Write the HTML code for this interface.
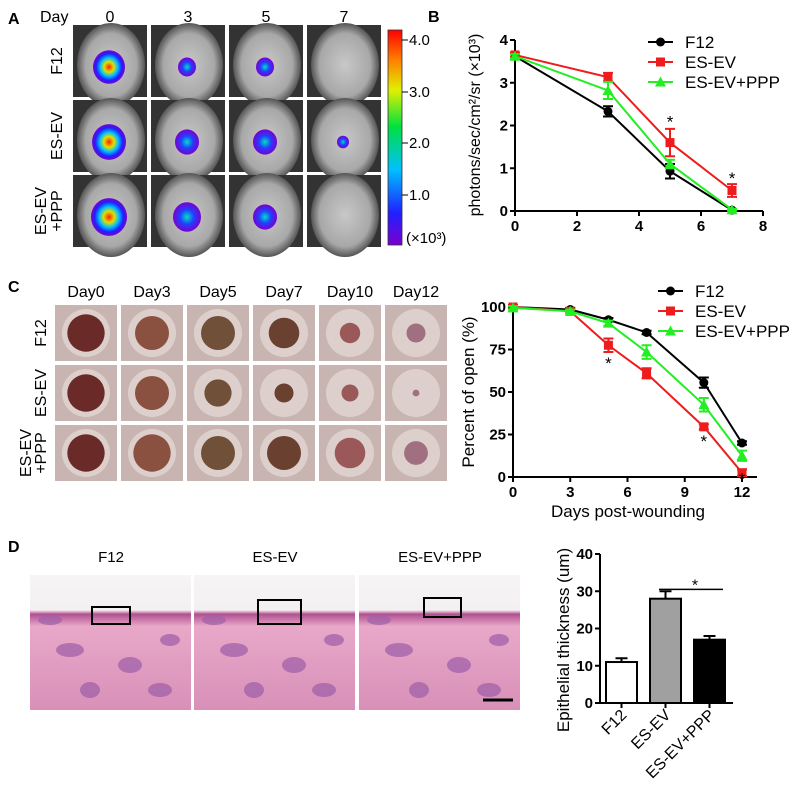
<!DOCTYPE html>
<html><head><meta charset="utf-8"><style>
body{margin:0;background:#fff}
svg{display:block;font-family:"Liberation Sans",sans-serif}
</style></head><body>
<svg id="fig" width="806" height="809" viewBox="0 0 806 809">
<defs>
<linearGradient id="cbar" x1="0" y1="1" x2="0" y2="0">
<stop offset="0" stop-color="#7a00d0"/><stop offset="0.15" stop-color="#2020ff"/><stop offset="0.35" stop-color="#00c0ff"/><stop offset="0.55" stop-color="#00e040"/><stop offset="0.72" stop-color="#e0f000"/><stop offset="0.86" stop-color="#ff8000"/><stop offset="1" stop-color="#ff0000"/>
</linearGradient>
<radialGradient id="blob"><stop offset="0" stop-color="#ff2000"/><stop offset="0.3" stop-color="#e0e000"/><stop offset="0.55" stop-color="#00c0ff"/><stop offset="0.8" stop-color="#2020ff"/><stop offset="1" stop-color="#7a00d0"/></radialGradient>
<radialGradient id="blob2"><stop offset="0" stop-color="#00e0c0"/><stop offset="0.5" stop-color="#2040ff"/><stop offset="1" stop-color="#7a00d0"/></radialGradient>
<radialGradient id="mouse"><stop offset="0" stop-color="#c8c8c8"/><stop offset="0.75" stop-color="#a8a8a8"/><stop offset="1" stop-color="#555"/></radialGradient>
<linearGradient id="histo" x1="0" y1="0" x2="0" y2="1"><stop offset="0" stop-color="#f6f4f6"/><stop offset="0.26" stop-color="#f4f0f2"/><stop offset="0.29" stop-color="#b05090"/><stop offset="0.38" stop-color="#e8a8c8"/><stop offset="1" stop-color="#d890b8"/></linearGradient>
</defs>
<g id="panelA"></g>
<g id="panelB"></g>
<g id="panelC"></g>
<g id="panelC2"></g>
<g id="panelD"></g>
<g id="panelD2"></g>
</svg>
<script>
// ---------- data ----------
const bDays=[0,3,5,7];
const bF12=[3.62,2.33,0.93,0.02];
const bF12Err=[0.05,0.12,0.17,0.02];
const bESEV=[3.65,3.13,1.6,0.48];
const bESEVErr=[0.05,0.1,0.32,0.15];
const bPPP=[3.62,2.82,1.1,0.03];
const bPPPErr=[0.05,0.2,0.1,0.02];
const bXTicks=[0,2,4,6,8];
const bYTicks=[0,1,2,3,4];
const cDays=[0,3,5,7,10,12];
const cF12=[100,98.5,92.5,85,55.5,20];
const cF12Err=[1,1,1,1,3,1];
const cESEV=[100,97.5,77.5,61,29.5,2.5];
const cESEVErr=[1,1,4,3,1.5,2];
const cPPP=[99.5,97.5,90.5,73.5,42.5,12.5];
const cPPPErr=[1,1,1.5,4,4,3];
const cXTicks=[0,3,6,9,12];
const cYTicks=[0,25,50,75,100];
const dCats=["F12","ES-EV","ES-EV+PPP"];
const dVals=[11,28,17];
const dErr=[1,2,1];
const dYTicks=[0,10,20,30,40];
const groups=["F12","ES-EV","ES-EV+PPP"];
const colors=["#000000","#ee1c1c","#22ee22"];

const NS="http://www.w3.org/2000/svg";
function mk(parent,tag,attrs,text){const e=document.createElementNS(NS,tag);for(const k in attrs)e.setAttribute(k,attrs[k]);if(text!==undefined)e.textContent=text;parent.appendChild(e);return e;}
function T(p,x,y,s,size,o){o=o||{};const e=mk(p,'text',Object.assign({x:x,y:y,'font-size':size,fill:'#000'},o),s);return e;}

// ---------- Panel A ----------
const A=document.getElementById('panelA');
let t=T(A,8,24,'A',16,{'font-weight':'bold'});

t=T(A,40,22,'Day',16);
const aCols=[73,151,229,307], aRows=[25,100,175], aDays=["0","3","5","7"];
const blobSize=[[16,9,9,0],[17,12,12,6],[18,14,12,0]];
aDays.forEach((d,i)=>{t=T(A,aCols[i]+37,22,d,16,{'text-anchor':'middle'});});
const rowLab=[["F12"],["ES-EV"],["ES-EV","+PPP"]];
aRows.forEach((ry,r)=>{
  rowLab[r].forEach((s,k,arr)=>{t=T(A,0,0,s,16,{'text-anchor':'middle',transform:`translate(${62-(arr.length-1-k)*16},${ry+36}) rotate(-90)`});});
  aCols.forEach((cx,c)=>{
    const g=mk(A,'g',{});
    mk(g,'rect',{x:cx,y:ry,width:74,height:72,fill:'#333'});
    mk(g,'ellipse',{cx:cx+38,cy:ry+40,rx:34,ry:42,fill:'url(#mouse)'});
    const s=blobSize[r][c];
    if(s>0)mk(g,'ellipse',{cx:cx+36,cy:ry+42,rx:s,ry:s*1.05,fill:c==0?'url(#blob)':'url(#blob2)'});
  });
});
const cb=mk(A,'rect',{x:388,y:30,width:14,height:215,fill:'url(#cbar)',stroke:'#333','stroke-width':0.8});

[["4.0",45],["3.0",97],["2.0",148],["1.0",200]].forEach(([s,y])=>{mk(A,'line',{x1:402,x2:408,y1:y-5,y2:y-5,stroke:'#000'});t=T(A,409,y,s,15);});
t=T(A,406,243,'(×10³)',15);

// ---------- generic line chart ----------
function lineChart(P,o){
  const xs=v=>o.x0+(v-o.xmin)/(o.xmax-o.xmin)*(o.x1-o.x0);
  const ys=v=>o.y0-(v-o.ymin)/(o.ymax-o.ymin)*(o.y0-o.y1);
  let e=mk(P,'line',{x1:o.x0,x2:o.xend,y1:o.y0,y2:o.y0,stroke:'#000','stroke-width':2});
  e=mk(P,'line',{x1:o.x0,x2:o.x0,y1:o.y0,y2:o.y1,stroke:'#000','stroke-width':2});
  o.xt.forEach(v=>{mk(P,'line',{x1:xs(v),x2:xs(v),y1:o.y0,y2:o.y0+5,stroke:'#000','stroke-width':2});e=T(P,xs(v),o.y0+20,v,15,{'text-anchor':'middle','font-weight':'bold'});});
  o.yt.forEach(v=>{mk(P,'line',{x1:o.x0-5,x2:o.x0,y1:ys(v),y2:ys(v),stroke:'#000','stroke-width':2});e=T(P,o.x0-7,ys(v)+5,v,15,{'text-anchor':'end','font-weight':'bold'});});
  o.series.forEach((sv,si)=>{
    const g=mk(P,'g',{});
    mk(g,'polyline',{points:o.days.map((d,i)=>xs(d)+','+ys(sv[i])).join(' '),fill:'none',stroke:colors[si],'stroke-width':2});
    o.days.forEach((d,i)=>{
      const x=xs(d),y=ys(sv[i]),e1=ys(sv[i]+o.err[si][i]),e2=ys(sv[i]-o.err[si][i]);
      mk(g,'path',{d:`M${x},${e1}V${e2}M${x-5},${e1}H${x+5}M${x-5},${e2}H${x+5}`,stroke:colors[si],'stroke-width':2,fill:'none'});
      let m;
      if(si==0)m=mk(g,'circle',{cx:x,cy:y,r:4.5,fill:colors[si]});
      else if(si==1)m=mk(g,'rect',{x:x-4.5,y:y-4.5,width:9,height:9,fill:colors[si]});
      else m=mk(g,'path',{d:`M${x},${y-5.5}L${x+5.5},${y+4.5}L${x-5.5},${y+4.5}Z`,fill:colors[si]});
      
    });
  });
  o.stars.forEach(([d,v])=>{e=T(P,xs(d),ys(v)+4,'*',17,{'text-anchor':'middle'});});
  groups.forEach((gname,i)=>{
    const ly=o.ly+i*o.ldy;
    const lg=mk(P,'g',{});
    mk(lg,'line',{x1:o.lx,x2:o.lx+25,y1:ly,y2:ly,stroke:colors[i],'stroke-width':2});
    const cx=o.lx+12.5;
    if(i==0)mk(lg,'circle',{cx:cx,cy:ly,r:4.5,fill:colors[i]});
    else if(i==1)mk(lg,'rect',{x:cx-4.5,y:ly-4.5,width:9,height:9,fill:colors[i]});
    else mk(lg,'path',{d:`M${cx},${ly-5.5}L${cx+5.5},${ly+4.5}L${cx-5.5},${ly+4.5}Z`,fill:colors[i]});
    T(lg,o.lx+37,ly+6,gname,17);
  });
  return {xs,ys};
}

// ---------- Panel B ----------
const B=document.getElementById('panelB');
t=T(B,428,22,'B',16,{'font-weight':'bold'});
lineChart(B,{x0:515,x1:763,xend:763,xmin:0,xmax:8,y0:211,y1:40,ymin:0,ymax:4,xt:bXTicks,yt:bYTicks,days:bDays,
  series:[bF12,bESEV,bPPP],err:[bF12Err,bESEVErr,bPPPErr],stars:[[5,2.05],[7,0.72]],lx:648,ly:42,ldy:20});
t=T(B,0,0,'photons/sec/cm²/sr (×10³)',16,{'text-anchor':'middle',transform:'translate(480,125) rotate(-90)'});


// ---------- Panel C photos ----------
const C=document.getElementById('panelC');
t=T(C,8,292,'C',16,{'font-weight':'bold'});
const cCols=[55,121,187,253,319,385], cRows=[305,365,425];
const cDayLab=["Day0","Day3","Day5","Day7","Day10","Day12"];
const woundR=[[0.55,0.5,0.5,0.45,0.3,0.28],[0.55,0.5,0.4,0.28,0.25,0.1],[0.55,0.55,0.5,0.5,0.45,0.35]];
const woundC=["#6a2a28","#8a5040","#705038","#6a4030","#9a5858","#a07080"];
cDayLab.forEach((d,i)=>{t=T(C,cCols[i]+31,297,d,16,{'text-anchor':'middle'});});
cRows.forEach((ry,r)=>{
  rowLab[r].forEach((s,k,arr)=>{t=T(C,0,0,s,16,{'text-anchor':'middle',transform:`translate(${46-(arr.length-1-k)*15},${ry+28}) rotate(-90)`});});
  cCols.forEach((cx,c)=>{
    const g=mk(C,'g',{});
    mk(g,'rect',{x:cx,y:ry,width:62,height:56,fill:'#c8b4b0'});
    mk(g,'circle',{cx:cx+31,cy:ry+28,r:24,fill:'#ddd0cc'});
    mk(g,'circle',{cx:cx+31,cy:ry+28,r:34*woundR[r][c],fill:woundC[c]});
  });
});

// ---------- Panel C chart ----------
const C2=document.getElementById('panelC2');
lineChart(C2,{x0:513,x1:742,xend:757,xmin:0,xmax:12,y0:477,y1:307,ymin:0,ymax:100,xt:cXTicks,yt:cYTicks,days:cDays,
  series:[cF12,cESEV,cPPP],err:[cF12Err,cESEVErr,cPPPErr],stars:[[5,66],[10,20],[12,-2]],lx:658,ly:291,ldy:20});
t=T(C2,0,0,'Percent of open (%)',17,{'text-anchor':'middle',transform:'translate(474,392) rotate(-90)'});

t=T(C2,628,517,'Days post-wounding',17,{'text-anchor':'middle'});


// ---------- Panel D histology ----------
const D=document.getElementById('panelD');
t=T(D,8,552,'D',16,{'font-weight':'bold'});
const hX=[30,194,359], hBox=[[92,607,38,17],[258,600,43,24],[424,598,37,19]];
dCats.forEach((c,i)=>{
  t=T(D,hX[i]+81,562,c,15,{'text-anchor':'middle'});
  const g=mk(D,'g',{});
  mk(g,'rect',{x:hX[i],y:575,width:161,height:135,fill:'url(#histo)'});
  [[40,650,14,7],[100,665,12,8],[60,690,10,8],[130,690,12,7],[20,620,12,5],[140,640,10,6]].forEach(([a,b,rx,ry])=>mk(g,'ellipse',{cx:hX[i]+a,cy:b,rx:rx,ry:ry,fill:'#a060a8',opacity:0.75}));
  const bx=mk(D,'rect',{x:hBox[i][0],y:hBox[i][1],width:hBox[i][2],height:hBox[i][3],fill:'none',stroke:'#000','stroke-width':2});
  
});
t=mk(D,'line',{x1:483,x2:513,y1:700,y2:700,stroke:'#000','stroke-width':3});

// ---------- Panel D bar chart ----------
const D2=document.getElementById('panelD2');
const dx0=600,dxend=733,dy0=703,dy1=554,dymax=40;
const dys=v=>dy0-v/dymax*(dy0-dy1);
const dBand=44, dBarW=31, dStart=606;
const dxs=i=>dStart+i*dBand;
const fills=["#ffffff","#a0a0a0","#000000"];
t=mk(D2,'line',{x1:dx0,x2:dxend,y1:dy0,y2:dy0,stroke:'#000','stroke-width':2});
t=mk(D2,'line',{x1:dx0,x2:dx0,y1:dy0,y2:dy1,stroke:'#000','stroke-width':2});
dYTicks.forEach(v=>{mk(D2,'line',{x1:dx0-5,x2:dx0,y1:dys(v),y2:dys(v),stroke:'#000','stroke-width':2});t=T(D2,dx0-7,dys(v)+5,v,15,{'text-anchor':'end','font-weight':'bold'});});
dVals.forEach((v,i)=>{
  const x=dxs(i), cx=x+dBarW/2;
  mk(D2,'path',{d:`M${cx},${dys(v)}V${dys(v+dErr[i])}M${cx-6},${dys(v+dErr[i])}H${cx+6}`,stroke:'#000','stroke-width':2});
  const b=mk(D2,'rect',{x:x,y:dys(v),width:dBarW,height:dy0-dys(v),fill:fills[i],stroke:'#000','stroke-width':2});
  
  mk(D2,'line',{x1:cx,x2:cx,y1:dy0,y2:dy0+5,stroke:'#000','stroke-width':2});
  t=T(D2,0,0,dCats[i],16,{'text-anchor':'end',transform:`translate(${cx+6},${dy0+13}) rotate(-45)`});
});
t=mk(D2,'line',{x1:659,x2:723,y1:dys(30.5),y2:dys(30.5),stroke:'#000','stroke-width':1.5});
t=T(D2,695,dys(31.5)+5,'*',16,{'text-anchor':'middle'});
t=T(D2,0,0,'Epithelial thickness (um)',17,{'text-anchor':'middle',transform:'translate(569,640) rotate(-90)'});

</script>
</body></html>
